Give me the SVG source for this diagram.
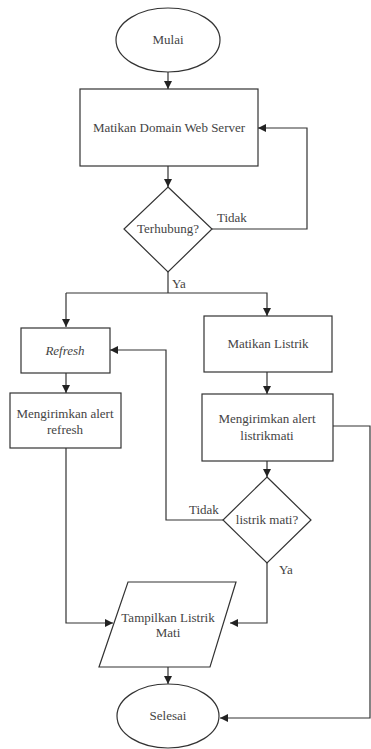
<svg xmlns="http://www.w3.org/2000/svg" width="371" height="749" viewBox="0 0 371 749">
<defs>
<marker id="ah" viewBox="0 0 10 10" refX="10" refY="5" markerWidth="8" markerHeight="8" markerUnits="userSpaceOnUse" orient="auto">
<path d="M0,0 L10,5 L0,10 z" fill="#222"/>
</marker>
<style>
.s{fill:#fff;stroke:#333;stroke-width:1.2}
.c{fill:none;stroke:#333;stroke-width:1.2}
.a{marker-end:url(#ah)}
</style>
</defs>
<rect width="371" height="749" fill="#fff"/>
<g id="connectors">
<path class="c a" d="M168,72 V89"/>
<path class="c a" d="M168,166 V187"/>
<path class="c a" d="M212,229 H307 V128 H258"/>
<path class="c" d="M168,272 V293"/>
<path class="c a" d="M66,293 H267 V316"/>
<path class="c a" d="M66,293 V327"/>
<path class="c a" d="M66,373 V393"/>
<path class="c a" d="M267,372 V394"/>
<path class="c a" d="M267,461 V477"/>
<path class="c a" d="M223,520 H166 V350 H110"/>
<path class="c a" d="M267,563 V623 H230"/>
<path class="c a" d="M66,448 V623 H113"/>
<path class="c a" d="M168,667 V684"/>
<path class="c a" d="M333,426 H370 V718 H220"/>
</g>
<g font-family="Times New Roman, Liberation Serif, Tinos, DejaVu Serif, serif" font-size="13" fill="#444" text-anchor="middle">
<g id="labels" text-anchor="start">
<text x="217" y="222">Tidak</text>
<text x="172" y="288">Ya</text>
<text x="189" y="514">Tidak</text>
<text x="279" y="574">Ya</text>
</g>
<g id="mulai">
<ellipse class="s" cx="168" cy="40" rx="52" ry="32"/>
<text x="168" y="44">Mulai</text>
</g>
<g id="matikan-domain">
<rect class="s" x="80" y="89" width="178" height="77"/>
<text x="169" y="132">Matikan Domain Web Server</text>
</g>
<g id="terhubung">
<polygon class="s" points="168,187 212,229 168,272 124,229"/>
<text x="168" y="233">Terhubung?</text>
</g>
<g id="refresh">
<rect class="s" x="21" y="328" width="89" height="45"/>
<text x="65" y="355" font-style="italic">Refresh</text>
</g>
<g id="alert-refresh">
<rect class="s" x="10" y="393" width="111" height="55"/>
<text x="65" y="418">Mengirimkan alert</text>
<text x="65" y="434">refresh</text>
</g>
<g id="matikan-listrik">
<rect class="s" x="204" y="316" width="128" height="56"/>
<text x="268" y="348">Matikan Listrik</text>
</g>
<g id="alert-listrikmati">
<rect class="s" x="202" y="394" width="131" height="67"/>
<text x="267" y="423">Mengirimkan alert</text>
<text x="267" y="440">listrikmati</text>
</g>
<g id="listrik-mati">
<polygon class="s" points="267,477 311,520 267,563 223,520"/>
<text x="267" y="524">listrik mati?</text>
</g>
<g id="tampilkan">
<polygon class="s" points="128,582 236,582 210,667 99,667"/>
<text x="168" y="622">Tampilkan Listrik</text>
<text x="168" y="637">Mati</text>
</g>
<g id="selesai">
<ellipse class="s" cx="168" cy="716" rx="51" ry="32"/>
<text x="168" y="720">Selesai</text>
</g>
</g>
</svg>
